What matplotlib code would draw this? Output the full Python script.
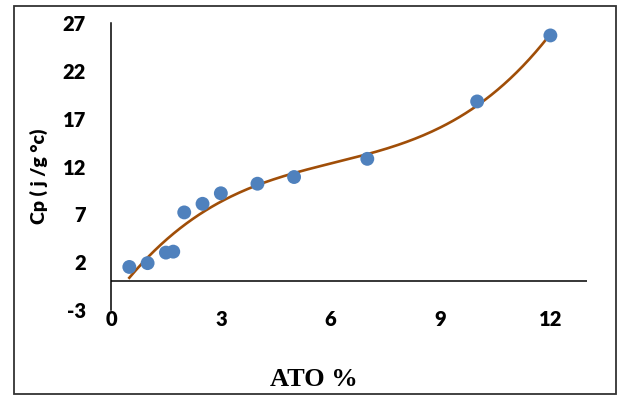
import numpy as np
import matplotlib
matplotlib.use('Agg')
import matplotlib.pyplot as plt
from matplotlib.patches import Rectangle

plt.rcParams['axes.unicode_minus'] = False

# ATO content (%) and measured specific heat
ato_pct = [0.5, 1.0, 1.5, 1.7, 2.0, 2.5, 3.0, 4.0, 5.0, 7.0, 10.0, 12.0]
cp_vals = [1.5, 1.9, 3.0, 3.1, 7.2, 8.1, 9.2, 10.2, 10.9, 12.8, 18.8, 25.7]

x_ticks = [0, 3, 6, 9, 12]
y_ticks = [-3, 2, 7, 12, 17, 22, 27]

fig = plt.figure(figsize=(6.19, 3.96), dpi=100)
ax = fig.add_axes([111 / 619, 1 - 310 / 396, (587 - 111) / 619, (310 - 23) / 396])

# third-order polynomial trendline through the measurements
coef = np.polyfit(ato_pct, cp_vals, 3)
xs = np.linspace(min(ato_pct), max(ato_pct), 200)
ax.plot(xs, np.polyval(coef, xs), color='#A04E08', lw=1.9, zorder=2)
ax.scatter(ato_pct, cp_vals, s=100, color='#4F81BD', edgecolors='none', zorder=3)

ax.set_xlim(0, 13)
ax.set_ylim(-3, 27)
ax.set_xticks(x_ticks)
ax.set_yticks(y_ticks)
ax.axhline(0, color='black', lw=1.1, zorder=1)

for s in ['top', 'right', 'bottom']:
    ax.spines[s].set_visible(False)
ax.spines['left'].set_linewidth(1.1)

ax.tick_params(axis='both', length=0, labelsize=14.5)
ax.tick_params(axis='y', pad=18)
ax.tick_params(axis='x', pad=0)
for lbl in ax.get_xticklabels() + ax.get_yticklabels():
    lbl.set_fontfamily('Lato')
    lbl.set_fontweight('heavy')

fig.text(39 / 619, 1 - 176 / 396, 'Cp ( j /g °c)', rotation=90, ha='center', va='center',
         fontsize=14, fontweight='heavy', family='Lato')
fig.text(314 / 619, 1 - 379 / 396, 'ATO %', ha='center', va='center',
         fontsize=19, fontweight='bold', family='Liberation Serif')

# chart area border
fig.patches.append(Rectangle((14 / 619, 2 / 396), (616 - 14) / 619, (390 - 2) / 396,
                             transform=fig.transFigure, fill=False,
                             edgecolor='#333333', lw=1.3))

fig.savefig('out.png', dpi=100)
